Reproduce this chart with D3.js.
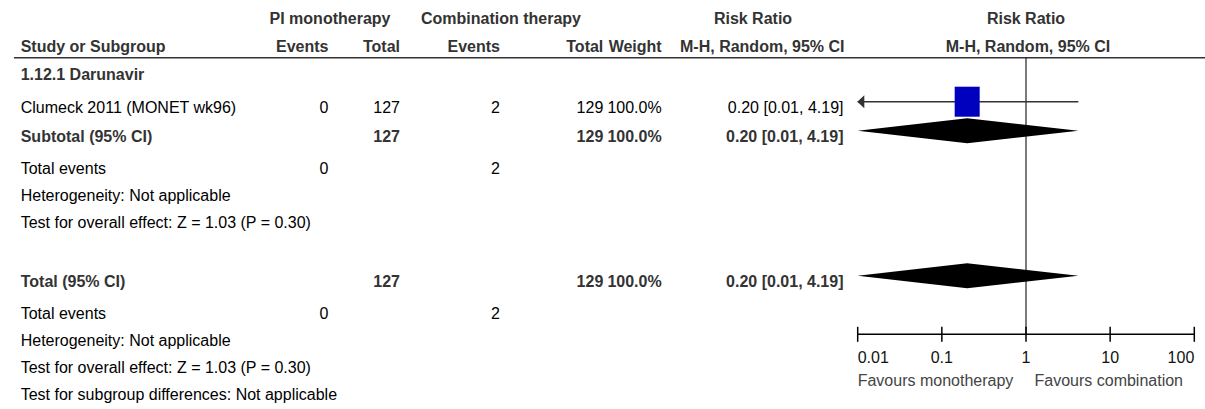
<!DOCTYPE html>
<html>
<head>
<meta charset="utf-8">
<script src="https://cdn.jsdelivr.net/npm/d3@7"></script>
<style>
  html, body { margin: 0; padding: 0; background: #fff; }
  svg { display: block; }
  text { font-family: "Liberation Sans", Arial, Helvetica, sans-serif; font-size: 16px; fill: #000; }
  .b { font-weight: bold; fill: #333; }
</style>
</head>
<body>
<div id="chart"></div>
<script>
// Study-level data
const studies = ["Clumeck 2011 (MONET wk96)"];
const piEvents = [0];
const piTotal = [127];
const comboEvents = [2];
const comboTotal = [129];
const weights = ["100.0%"];
const rr = [0.20];
const rrLow = [0.01];
const rrHigh = [4.19];

// Pooled results (subgroup and overall)
const subtotalLabel = "Subtotal (95% CI)";
const subtotalRR = [0.20, 0.01, 4.19];
const totalLabel = "Total (95% CI)";
const totalRR = [0.20, 0.01, 4.19];
const pooledTotals = { pi: 127, combo: 129, weight: "100.0%" };
const eventTotals = { pi: 0, combo: 2 };

const subgroupName = "1.12.1 Darunavir";
const footLines = ["Heterogeneity: Not applicable", "Test for overall effect: Z = 1.03 (P = 0.30)"];
const lastLine = "Test for subgroup differences: Not applicable";

// Axis
const tickValues = [0.01, 0.1, 1, 10, 100];
const tickLabels = ["0.01", "0.1", "1", "10", "100"];
const favourLeft = "Favours monotherapy";
const favourRight = "Favours combination";

const W = 1205, H = 409;
const svg = d3.select("#chart").append("svg").attr("width", W).attr("height", H);
svg.append("rect").attr("width", W).attr("height", H).attr("fill", "#fff");

const x = d3.scaleLog().domain([0.01, 100]).range([857.7, 1194.3]);

// Column anchors
const col = {
  study: 20.7, piEv: 328.5, piTot: 400, coEv: 500, coTot: 603.3, wt: 661.7, rrTxt: 843.5
};

// Row baselines
const row = {
  h1: 24, h2: 52, rule: 57.7, sub: 80, study0: 112.5, subtotal: 141.5,
  ev1: 174, het1: 201, z1: 228, total: 286.5, ev2: 318.5, het2: 345.5, z2: 372.5, diff: 399.5, axis: 334.3
};
const markOffset = 10.8; // graphic centre sits above the text baseline

function txt(xp, yp, s, anchor, bold) {
  return svg.append("text").attr("x", xp).attr("y", yp)
    .attr("text-anchor", anchor || "start")
    .attr("class", bold ? "b" : null).text(s);
}

// Header rows
txt(330, row.h1, "PI monotherapy", "middle", true);
txt(501, row.h1, "Combination therapy", "middle", true);
txt(753, row.h1, "Risk Ratio", "middle", true);
txt(x(1), row.h1, "Risk Ratio", "middle", true);
txt(col.study, row.h2, "Study or Subgroup", "start", true);
txt(col.piEv, row.h2, "Events", "end", true);
txt(col.piTot, row.h2, "Total", "end", true);
txt(col.coEv, row.h2, "Events", "end", true);
txt(col.coTot, row.h2, "Total", "end", true);
txt(col.wt, row.h2, "Weight", "end", true);
txt(844.5, row.h2, "M-H, Random, 95% CI", "end", true);
txt(x(1) + 2, row.h2, "M-H, Random, 95% CI", "middle", true);

svg.append("line").attr("x1", 14).attr("x2", W).attr("y1", row.rule).attr("y2", row.rule)
  .attr("stroke", "#333").attr("stroke-width", 1.5);

const fmt = d3.format(".2f");
const ciText = (m, l, h) => `${fmt(m)} [${fmt(l)}, ${fmt(h)}]`;

// Line of no effect
svg.append("line").attr("x1", x(1)).attr("x2", x(1)).attr("y1", row.rule).attr("y2", row.axis)
  .attr("stroke", "#222").attr("stroke-width", 1.2);

// Subgroup heading
txt(col.study, row.sub, subgroupName, "start", true);

// Study rows
studies.forEach((s, i) => {
  const yb = row.study0 + i * 29;
  const yc = yb - markOffset;
  txt(col.study, yb, s);
  txt(col.piEv, yb, piEvents[i], "end");
  txt(col.piTot, yb, piTotal[i], "end");
  txt(col.coEv, yb, comboEvents[i], "end");
  txt(col.coTot, yb, comboTotal[i], "end");
  txt(col.wt, yb, weights[i], "end");
  txt(col.rrTxt, yb, ciText(rr[i], rrLow[i], rrHigh[i]), "end");

  const lo = Math.max(rrLow[i], x.domain()[0]);
  const hi = Math.min(rrHigh[i], x.domain()[1]);
  svg.append("line").attr("x1", x(lo)).attr("x2", x(hi)).attr("y1", yc).attr("y2", yc)
    .attr("stroke", "#333").attr("stroke-width", 1.5);
  if (rrLow[i] <= x.domain()[0]) {
    const tip = x(x.domain()[0]) - 0.4;
    svg.append("path")
      .attr("d", `M${tip},${yc} L${tip + 7},${yc - 6.5} L${tip + 7},${yc + 6.5} Z`)
      .attr("fill", "#333");
  }
  const cx = x(rr[i]);
  svg.append("rect").attr("x", cx - 12.5).attr("y", yc - 15).attr("width", 25).attr("height", 30)
    .attr("fill", "#0000bf");
});

function diamond(vals, yc) {
  const [m, l, h] = vals;
  const pts = [[x(l), yc], [x(m), yc - 12.5], [x(h), yc], [x(m), yc + 12.5]];
  svg.append("path").attr("d", d3.line()(pts) + "Z").attr("fill", "#000");
}

// Subtotal
txt(col.study, row.subtotal, subtotalLabel, "start", true);
txt(col.piTot, row.subtotal, pooledTotals.pi, "end", true);
txt(col.coTot, row.subtotal, pooledTotals.combo, "end", true);
txt(col.wt, row.subtotal, pooledTotals.weight, "end", true);
txt(col.rrTxt, row.subtotal, ciText(...subtotalRR), "end", true);
diamond(subtotalRR, row.subtotal - markOffset);

txt(col.study, row.ev1, "Total events");
txt(col.piEv, row.ev1, eventTotals.pi, "end");
txt(col.coEv, row.ev1, eventTotals.combo, "end");
txt(col.study, row.het1, footLines[0]);
txt(col.study, row.z1, footLines[1]);

// Overall
txt(col.study, row.total, totalLabel, "start", true);
txt(col.piTot, row.total, pooledTotals.pi, "end", true);
txt(col.coTot, row.total, pooledTotals.combo, "end", true);
txt(col.wt, row.total, pooledTotals.weight, "end", true);
txt(col.rrTxt, row.total, ciText(...totalRR), "end", true);
diamond(totalRR, row.total - markOffset);

txt(col.study, row.ev2, "Total events");
txt(col.piEv, row.ev2, eventTotals.pi, "end");
txt(col.coEv, row.ev2, eventTotals.combo, "end");
txt(col.study, row.het2, footLines[0]);
txt(col.study, row.z2, footLines[1]);
txt(col.study, row.diff, lastLine);

// Log axis
const axisG = svg.append("g").attr("transform", `translate(0,${row.axis})`);
axisG.append("line").attr("x1", x.range()[0]).attr("x2", x.range()[1])
  .attr("stroke", "#000").attr("stroke-width", 1.5);
axisG.selectAll("line.tick").data(tickValues).join("line").attr("class", "tick")
  .attr("x1", d => x(d)).attr("x2", d => x(d)).attr("y1", -7.5).attr("y2", 7.5)
  .attr("stroke", "#000").attr("stroke-width", 1.5);
axisG.selectAll("text.tl").data(tickValues).join("text").attr("class", "tl")
  .attr("x", d => x(d)).attr("y", 28.4)
  .attr("text-anchor", (d, i) => i === 0 ? "start" : (i === tickValues.length - 1 ? "end" : "middle"))
  .style("fill", "#111")
  .text((d, i) => tickLabels[i]);

txt(x(0.01), 385.5, favourLeft, "start").style("fill", "#444");
txt(x(1) + 8.5, 385.5, favourRight, "start").style("fill", "#444");
</script>
</body>
</html>
